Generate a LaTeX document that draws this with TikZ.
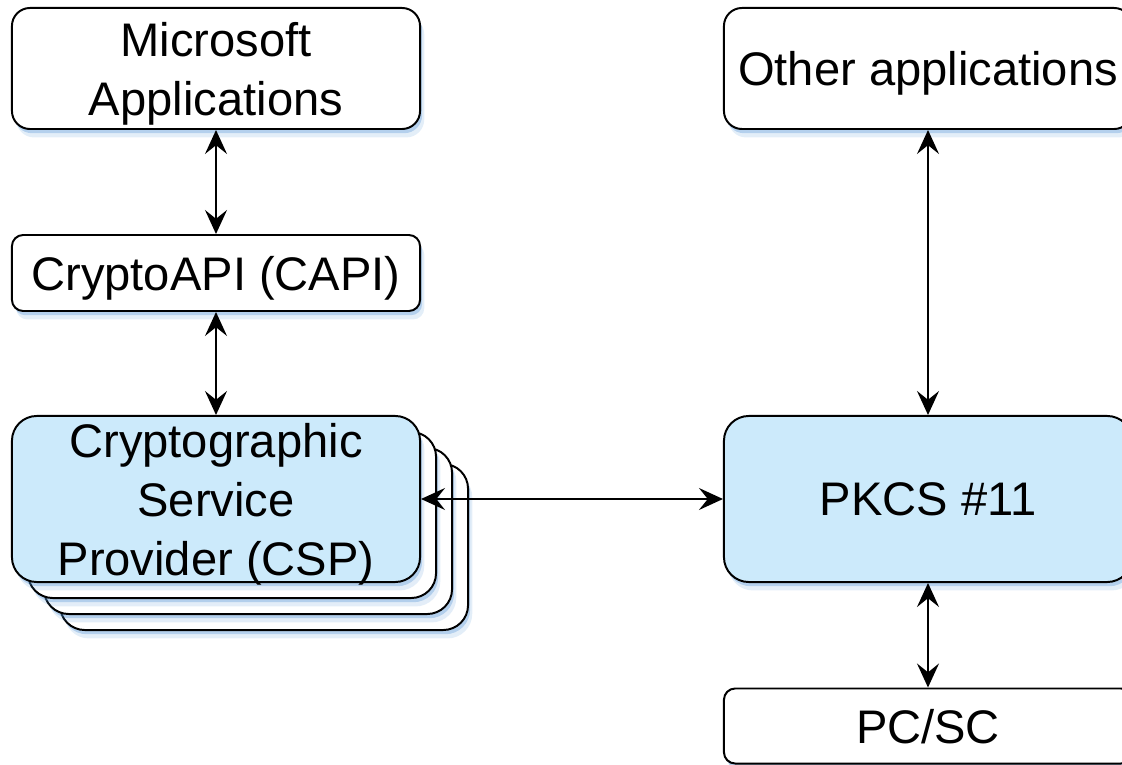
\documentclass[tikz,border=0pt]{standalone}
\usepackage{fontspec}
\setmainfont{Liberation Sans}
\usetikzlibrary{arrows.meta,shadows}

\definecolor{layerblue}{RGB}{204,234,251}
\definecolor{glowblue}{RGB}{70,140,210}

\tikzset{
  layer/.style={draw, line width=1.4pt, fill=white, align=center, inner sep=0pt,
    minimum width=10.2cm, text depth=0pt, font=\fontsize{33.5}{42}\selectfont,
    drop shadow={fill=glowblue, opacity=0.15, shadow xshift=3pt, shadow yshift=-6pt},
    drop shadow={fill=glowblue, opacity=0.3, shadow xshift=1.5pt, shadow yshift=-3pt}},
  slim/.style={layer, minimum height=1.9cm, rounded corners=0.28cm},
  mid/.style={layer, minimum height=3.025cm, rounded corners=0.45cm},
  tall/.style={layer, minimum height=4.15cm, rounded corners=0.62cm},
  link/.style={draw, line width=1.1pt,
    {Stealth[length=0.6cm,width=0.55cm,inset=0.22cm]}-{Stealth[length=0.6cm,width=0.55cm,inset=0.22cm]}}
}

\begin{document}
\begin{tikzpicture}[x=0.025cm, y=0.025cm]
\useasboundingbox (0,0) rectangle (1122,764);

% left column
\node[mid] (ms) at (216,695.5) {Microsoft\\Applications};
\node[slim] (capi) at (216,491) {CryptoAPI (CAPI)};

\node[tall] (csp3) at (264,217) {};
\node[tall] (csp2) at (248,233) {};
\node[tall] (csp1) at (232,249) {};
\node[tall, fill=layerblue] (csp) at (216,265) {Cryptographic\\Service\\Provider (CSP)};

% right column
\node[mid] (other) at (928,695.5) {Other applications};
\node[tall, fill=layerblue] (pkcs) at (928,265) {PKCS \#11};
\node[slim, minimum height=1.875cm] (pcsc) at (928,38) {PC/SC};

\path[link] (ms) -- (capi);
\path[link] (capi) -- (csp);
\path[link] (csp.east) -- (pkcs.west);
\path[link] (other) -- (pkcs);
\path[link] (pkcs) -- (pcsc);
\end{tikzpicture}
\end{document}
